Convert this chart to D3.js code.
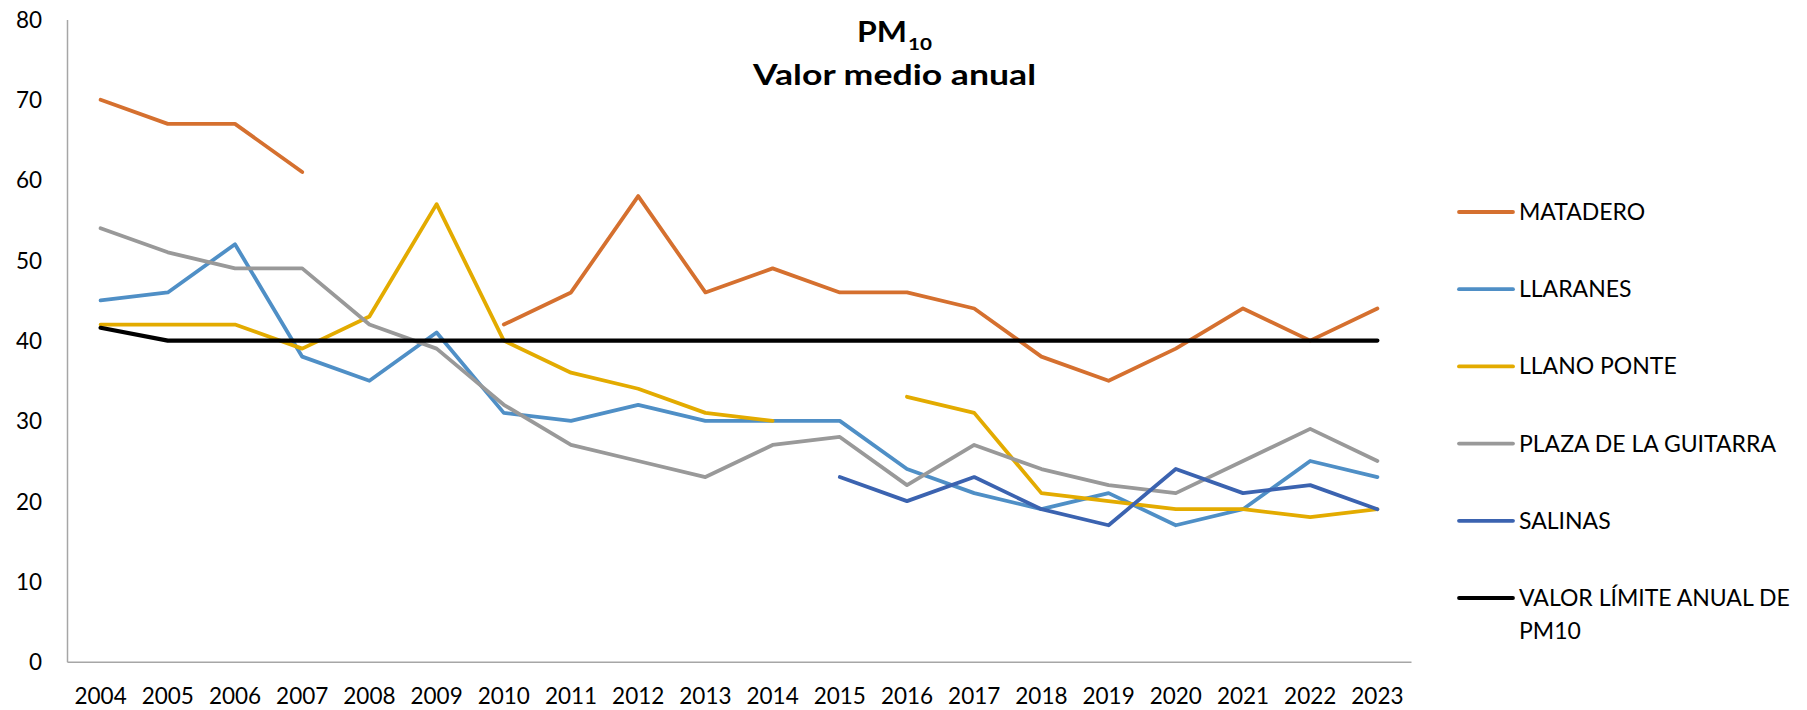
<!DOCTYPE html>
<html>
<head>
<meta charset="utf-8">
<script src="https://cdn.jsdelivr.net/npm/d3@7"></script>
<style>
  body { margin: 0; background: #fff; }
  text { font-family: Lato, "Open Sans", sans-serif; fill: #000; }
</style>
</head>
<body>
<div id="chart"></div>
<script>
const years = ["2004","2005","2006","2007","2008","2009","2010","2011","2012","2013",
               "2014","2015","2016","2017","2018","2019","2020","2021","2022","2023"];
const matadero  = [70, 67, 67, 61, null, null, 42, 46, 58, 46, 49, 46, 46, 44, 38, 35, 39, 44, 40, 44];
const llaranes  = [45, 46, 52, 38, 35, 41, 31, 30, 32, 30, 30, 30, 24, 21, 19, 21, 17, 19, 25, 23];
const llanoPonte = [42, 42, 42, 39, 43, 57, 40, 36, 34, 31, 30, null, 33, 31, 21, 20, 19, 19, 18, 19];
const plaza     = [54, 51, 49, 49, 42, 39, 32, 27, 25, 23, 27, 28, 22, 27, 24, 22, 21, 25, 29, 25];
const salinas   = [null, null, null, null, null, null, null, null, null, null, null, 23, 20, 23, 19, 17, 24, 21, 22, 19];
const limite    = [41.6, 40, 40, 40, 40, 40, 40, 40, 40, 40, 40, 40, 40, 40, 40, 40, 40, 40, 40, 40];
const yTicks = [0, 10, 20, 30, 40, 50, 60, 70, 80];

const seriesNames = ["MATADERO", "LLARANES", "LLANO PONTE", "PLAZA DE LA GUITARRA", "SALINAS", "VALOR LÍMITE ANUAL DE PM10"];
const seriesValues = [matadero, llaranes, llanoPonte, plaza, salinas, limite];
const seriesColors = ["#d5702f", "#4f8fc6", "#e3ab00", "#999999", "#3b63b0", "#000000"];

const width = 1807, height = 710;
const margins = {l: 67, r: 396, t: 19.5, b: 48.3};
const plotW = width - margins.l - margins.r;
const plotH = height - margins.t - margins.b;

const svg = d3.select("#chart").append("svg")
  .attr("width", width)
  .attr("height", height);

const x = d3.scaleBand().domain(years).range([0, plotW]);
const y = d3.scaleLinear().domain([0, 80]).range([plotH, 0]);

const g = svg.append("g").attr("transform", `translate(${margins.l},${margins.t})`);

// axes
const yAxis = g.append("g").call(d3.axisLeft(y).tickValues(yTicks).tickSize(0).tickPadding(25));
yAxis.select(".domain").attr("stroke", "#a6a6a6").attr("stroke-width", 1.5);
yAxis.selectAll("text").attr("font-size", "22.5px").attr("dy", "0.35em");

const xAxis = g.append("g").attr("transform", `translate(0,${plotH})`)
  .call(d3.axisBottom(x).tickSize(0).tickPadding(26));
xAxis.select(".domain").attr("stroke", "#a6a6a6").attr("stroke-width", 1.5);
xAxis.selectAll("text").attr("font-size", "22.5px");

// lines
const line = d3.line()
  .defined(d => d != null)
  .x((d, i) => x(years[i]) + x.bandwidth() / 2)
  .y(d => y(d));

seriesValues.forEach((vals, k) => {
  g.append("path")
    .datum(vals)
    .attr("fill", "none")
    .attr("stroke", seriesColors[k])
    .attr("stroke-width", k == 5 ? 4.2 : 3.8)
    .attr("stroke-linejoin", "round")
    .attr("stroke-linecap", "round")
    .attr("d", line);
});

// title
svg.append("text")
  .attr("x", 857).attr("y", 41.7)
  .attr("font-family", "'Open Sans', sans-serif")
  .attr("font-size", "28px").attr("font-weight", "bold")
  .attr("textLength", 50).attr("lengthAdjust", "spacingAndGlyphs")
  .text("PM");
svg.append("text")
  .attr("x", 908).attr("y", 50)
  .attr("font-family", "'Open Sans', sans-serif")
  .attr("font-size", "17px").attr("font-weight", "bold")
  .attr("textLength", 24).attr("lengthAdjust", "spacingAndGlyphs")
  .text("10");
svg.append("text")
  .attr("x", 894.5).attr("y", 85)
  .attr("text-anchor", "middle")
  .attr("font-family", "'Open Sans', sans-serif")
  .attr("font-size", "28px").attr("font-weight", "bold")
  .attr("textLength", 283).attr("lengthAdjust", "spacingAndGlyphs")
  .text("Valor medio anual");

// legend
const legend = svg.append("g").attr("transform", "translate(1459,212)");
seriesNames.forEach((name, k) => {
  const item = legend.append("g").attr("transform", `translate(0,${k * 77.2})`);
  item.append("line")
    .attr("x1", 0).attr("x2", 54)
    .attr("stroke", seriesColors[k]).attr("stroke-width", 3.8)
    .attr("stroke-linecap", "round");
  const t = item.append("text").attr("x", 60).attr("dy", "0.35em").attr("font-size", "23px");
  if (k == 5) {
    t.append("tspan").text("VALOR LÍMITE ANUAL DE");
    t.append("tspan").attr("x", 60).attr("dy", 32.7).text("PM10");
  } else {
    t.text(name);
  }
});
</script>
</body>
</html>
